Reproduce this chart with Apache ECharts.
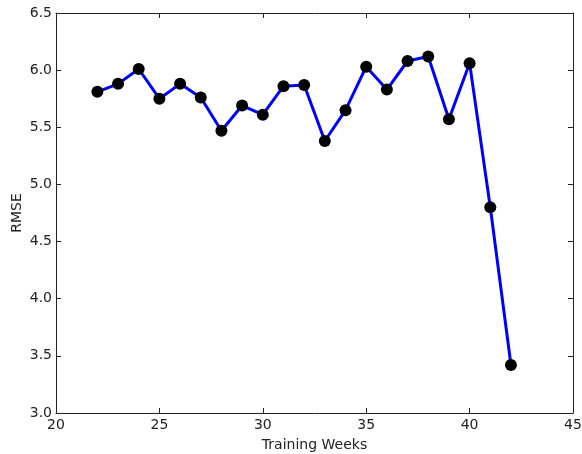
<!DOCTYPE html>
<html><head><meta charset="utf-8">
<script src="https://cdn.jsdelivr.net/npm/echarts@6/dist/echarts.min.js"></script>
<style>html,body{margin:0;padding:0;background:#fff}#c{width:582px;height:454px}</style>
</head><body><div id="c"></div>
<script>
const weeks = [22,23,24,25,26,27,28,29,30,31,32,33,34,35,36,37,38,39,40,41,42];
const rmse = [5.81,5.88,6.01,5.75,5.88,5.76,5.47,5.69,5.61,5.86,5.87,5.38,5.65,6.03,5.83,6.08,6.12,5.57,6.06,4.80,3.42];
const xLabel = 'Training Weeks';
const yLabel = 'RMSE';

const font = 'DejaVu Sans';
const axisCol = '#222';
const chart = echarts.init(document.getElementById('c'));
const baseX = {type:'value', min:20, max:45, interval:5, splitLine:{show:false},
  axisLine:{show:true, onZero:false, lineStyle:{color:axisCol, width:1}},
  axisTick:{show:true, inside:true, length:5, lineStyle:{color:axisCol}}};
const baseY = {type:'value', min:3.0, max:6.5, interval:0.5, splitLine:{show:false},
  axisLine:{show:true, onZero:false, lineStyle:{color:axisCol, width:1}},
  axisTick:{show:true, inside:true, length:5, lineStyle:{color:axisCol}}};
chart.setOption({
  animation:false,
  backgroundColor:'#fff',
  grid:{left:56, right:9, top:13, bottom:41, containLabel:false, outerBoundsMode:'none'},
  xAxis:[
    Object.assign({}, baseX, {position:'bottom', name:xLabel, nameLocation:'middle', nameGap:25,
      nameMoveOverlap:false,
      nameTextStyle:{fontFamily:font, fontSize:14, color:'#222'},
      axisLabel:{fontFamily:font, fontSize:14, color:'#222', margin:5}}),
    Object.assign({}, baseX, {position:'top', axisLabel:{show:false}})
  ],
  yAxis:[
    Object.assign({}, baseY, {position:'left', name:yLabel, nameLocation:'middle', nameGap:32,
      nameMoveOverlap:false,
      nameTextStyle:{fontFamily:font, fontSize:14, color:'#222'},
      axisLabel:{fontFamily:font, fontSize:14, color:'#222', margin:4, formatter:v=>v.toFixed(1)}}),
    Object.assign({}, baseY, {position:'right', axisLabel:{show:false}})
  ],
  series:[{
    type:'line',
    data: weeks.map((w,i)=>[w, rmse[i]]),
    symbol:'circle', symbolSize:12,
    lineStyle:{color:'#0000ff', width:3},
    itemStyle:{color:'#000', borderColor:'#000', borderWidth:0},
    z:3
  }]
});
</script></body></html>
